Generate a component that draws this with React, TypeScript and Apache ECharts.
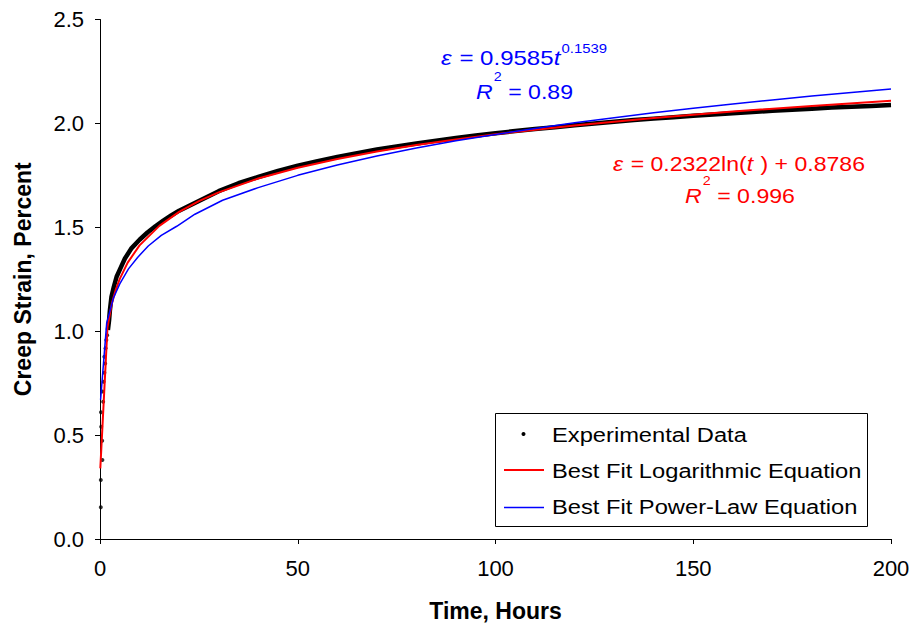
import React, { useEffect, useRef } from "react";
import * as echarts from "echarts";

// ---- data ----
const xTicks = [0, 50, 100, 150, 200];
const yTicks = [0, 0.5, 1.0, 1.5, 2.0, 2.5];

// isolated early experimental points (t < 2 h)
const expEarlyT = [0.2, 0.2, 0.6, 0.55, 0.3, 0.25, 0.8, 0.6, 0.9, 1.1, 1.3, 1.1, 1.4, 1.6, 1.8];
const expEarlyV = [0.153, 0.284, 0.38, 0.473, 0.54, 0.61, 0.66, 0.71, 0.757, 0.80, 0.845, 0.877, 0.918, 0.958, 0.98];

// dense experimental data (drawn as a thick band)
const expT = [2.0, 2.3, 2.5, 2.9, 3.5, 4.2, 5.1, 6.3, 8, 10, 12, 14, 16, 18, 20, 25, 30, 35, 40, 45, 50, 55, 60, 65, 70, 75, 80, 85, 90, 95, 100, 105, 110, 115, 120, 125, 130, 135, 140, 145, 150, 155, 160, 165, 170, 175, 180, 185, 190, 195, 200];
const expV = [1.006, 1.054, 1.10, 1.166, 1.214, 1.262, 1.30, 1.35, 1.40, 1.44, 1.475, 1.505, 1.532, 1.557, 1.58, 1.627, 1.674, 1.712, 1.742, 1.771, 1.796, 1.818, 1.838, 1.857, 1.874, 1.889, 1.903, 1.917, 1.930, 1.942, 1.953, 1.963, 1.973, 1.982, 1.991, 2.000, 2.008, 2.016, 2.023, 2.030, 2.037, 2.043, 2.049, 2.055, 2.061, 2.066, 2.071, 2.076, 2.080, 2.084, 2.088];

// best fit logarithmic curve (red)
const logT = [0.08, 1.9, 3, 4, 5, 7, 10, 15, 20, 25, 30, 40, 50, 60, 70, 80, 90, 100, 120, 140, 160, 180, 200];
const logV = [0.34, 1.02, 1.134, 1.20, 1.252, 1.33, 1.413, 1.507, 1.574, 1.626, 1.668, 1.735, 1.787, 1.829, 1.865, 1.896, 1.923, 1.948, 1.990, 2.026, 2.057, 2.084, 2.109];

// best fit power-law curve (blue)
const powT = [0.15, 1.7, 3.4, 5, 7.2, 9.5, 12.2, 15.5, 19.4, 24, 31, 40, 50, 60, 70, 80, 90, 100, 110, 120, 130, 140, 150, 160, 170, 180, 190, 200];
const powV = [0.67, 1.04, 1.16, 1.228, 1.30, 1.355, 1.41, 1.461, 1.505, 1.563, 1.63, 1.691, 1.75, 1.80, 1.843, 1.882, 1.916, 1.947, 1.976, 2.003, 2.027, 2.051, 2.073, 2.093, 2.113, 2.132, 2.149, 2.166];

const seriesNames = ["Experimental Data", "Best Fit Logarithmic Equation", "Best Fit Power-Law Equation"];

const FONT = '"Liberation Sans", Arial, Helvetica, sans-serif';

let measureCtx: CanvasRenderingContext2D | null = null;
function measure(text: string, size: number, italic: boolean): number {
  if (!measureCtx) {
    const c = document.createElement("canvas");
    measureCtx = c.getContext("2d");
  }
  if (!measureCtx) return text.length * size * 0.55;
  measureCtx.font = `${italic ? "italic " : ""}${size}px ${FONT}`;
  return measureCtx.measureText(text).width;
}

type Seg = { text: string; italic?: boolean; sup?: boolean };

function eqGroup(x: number, yMid: number, segs: Seg[], color: string, size: number, targetWidth: number, supOffset: number) {
  let cx = 0;
  const children: any[] = [];
  for (const s of segs) {
    const sz = s.sup ? Math.round(size * 0.62) : size;
    const w = measure(s.text, sz, !!s.italic);
    children.push({
      type: "text",
      x: cx,
      y: s.sup ? -supOffset : 0,
      style: {
        text: s.text,
        fill: color,
        fontSize: sz,
        fontFamily: FONT,
        fontStyle: s.italic ? "italic" : "normal",
        align: "left",
        verticalAlign: "middle",
      },
    });
    cx += w + (s.italic ? 1 : 0);
  }
  const scale = targetWidth / cx;
  return { type: "group", x, y: yMid, scaleX: scale, children };
}

export default function App() {
  const ref = useRef<HTMLDivElement>(null);

  useEffect(() => {
    if (!ref.current) return;
    const chart = echarts.init(ref.current, null, { renderer: "svg" });

    const early = expEarlyT.map((t, i) => [t, expEarlyV[i]]);
    const exp = expT.map((t, i) => [t, expV[i]]);
    const logFit = logT.map((t, i) => [t, logV[i]]);
    const powFit = powT.map((t, i) => [t, powV[i]]);

    const legendFont = 21;
    const legendScale = 195 / measure("Experimental Data", legendFont, false);

    const legendText = (txt: string, y: number) => ({
      type: "text",
      x: 552,
      y,
      scaleX: legendScale,
      style: {
        text: txt,
        fill: "#000",
        fontSize: legendFont,
        fontFamily: FONT,
        align: "left",
        verticalAlign: "middle",
      },
    });

    const option: any = {
      animation: false,
      backgroundColor: "#fff",
      grid: { left: 100, right: 22, top: 19.5, bottom: 89, containLabel: false },
      xAxis: {
        type: "value",
        min: xTicks[0],
        max: xTicks[xTicks.length - 1],
        interval: 50,
        name: "Time, Hours",
        nameLocation: "middle",
        nameGap: 60,
        nameTextStyle: { fontFamily: FONT, fontSize: 23, fontWeight: "bold", color: "#000" },
        axisLine: { show: true, lineStyle: { color: "#000", width: 1 } },
        axisTick: { show: true, inside: false, length: 5, lineStyle: { color: "#000" } },
        axisLabel: { fontFamily: FONT, fontSize: 22, color: "#000", margin: 18 },
        splitLine: { show: false },
      },
      yAxis: {
        type: "value",
        min: yTicks[0],
        max: yTicks[yTicks.length - 1],
        interval: 0.5,
        name: "Creep Strain, Percent",
        nameLocation: "middle",
        nameGap: 66,
        nameTextStyle: { fontFamily: FONT, fontSize: 23, fontWeight: "bold", color: "#000" },
        axisLine: { show: true, lineStyle: { color: "#000", width: 1 } },
        axisTick: { show: true, inside: false, length: 5, lineStyle: { color: "#000" } },
        axisLabel: {
          fontFamily: FONT,
          fontSize: 22,
          color: "#000",
          margin: 16,
          formatter: (v: number) => v.toFixed(1),
        },
        splitLine: { show: false },
      },
      series: [
        {
          name: seriesNames[0],
          type: "scatter",
          data: early,
          symbol: "circle",
          symbolSize: 4,
          itemStyle: { color: "#000" },
          z: 2,
        },
        {
          name: seriesNames[0],
          type: "line",
          data: exp,
          showSymbol: false,
          lineStyle: { color: "#000", width: 4.5 },
          itemStyle: { color: "#000" },
          z: 2,
        },
        {
          name: seriesNames[1],
          type: "line",
          data: logFit,
          showSymbol: false,
          lineStyle: { color: "#ff0000", width: 2 },
          itemStyle: { color: "#ff0000" },
          z: 3,
        },
        {
          name: seriesNames[2],
          type: "line",
          data: powFit,
          showSymbol: false,
          lineStyle: { color: "#0000ff", width: 1.5 },
          itemStyle: { color: "#0000ff" },
          z: 4,
        },
      ],
      graphic: [
        // equations
        eqGroup(441, 58.5, [
          { text: "ε", italic: true },
          { text: " = 0.9585" },
          { text: "t", italic: true },
          { text: "0.1539", sup: true },
        ], "#0000ff", 21, 166, 10),
        eqGroup(476, 91.5, [
          { text: "R", italic: true },
          { text: "2", sup: true },
          { text: " = 0.89" },
        ], "#0000ff", 21, 97, 15),
        eqGroup(613, 164, [
          { text: "ε", italic: true },
          { text: " = 0.2322ln(" },
          { text: "t ", italic: true },
          { text: ") + 0.8786" },
        ], "#ff0000", 21, 252, 10),
        eqGroup(685, 195.5, [
          { text: "R", italic: true },
          { text: "2", sup: true },
          { text: " = 0.996" },
        ], "#ff0000", 21, 110, 15),
        // legend
        {
          type: "group",
          z: 100,
          children: [
            {
              type: "rect",
              shape: { x: 495.5, y: 413.5, width: 372, height: 113 },
              style: { fill: "#fff", stroke: "#000", lineWidth: 1 },
            },
            { type: "circle", shape: { cx: 523.5, cy: 434, r: 2 }, style: { fill: "#000" } },
            {
              type: "line",
              shape: { x1: 504, y1: 470, x2: 544, y2: 470 },
              style: { stroke: "#ff0000", lineWidth: 2 },
            },
            {
              type: "line",
              shape: { x1: 504, y1: 507.5, x2: 544, y2: 507.5 },
              style: { stroke: "#0000ff", lineWidth: 1.5 },
            },
            legendText(seriesNames[0], 434.5),
            legendText(seriesNames[1], 470.5),
            legendText(seriesNames[2], 507),
          ],
        },
      ],
    };

    chart.setOption(option);
    return () => chart.dispose();
  }, []);

  return (
    <div
      ref={ref}
      style={{ position: "fixed", left: 0, top: 0, width: 913, height: 628, background: "#fff" }}
    />
  );
}
